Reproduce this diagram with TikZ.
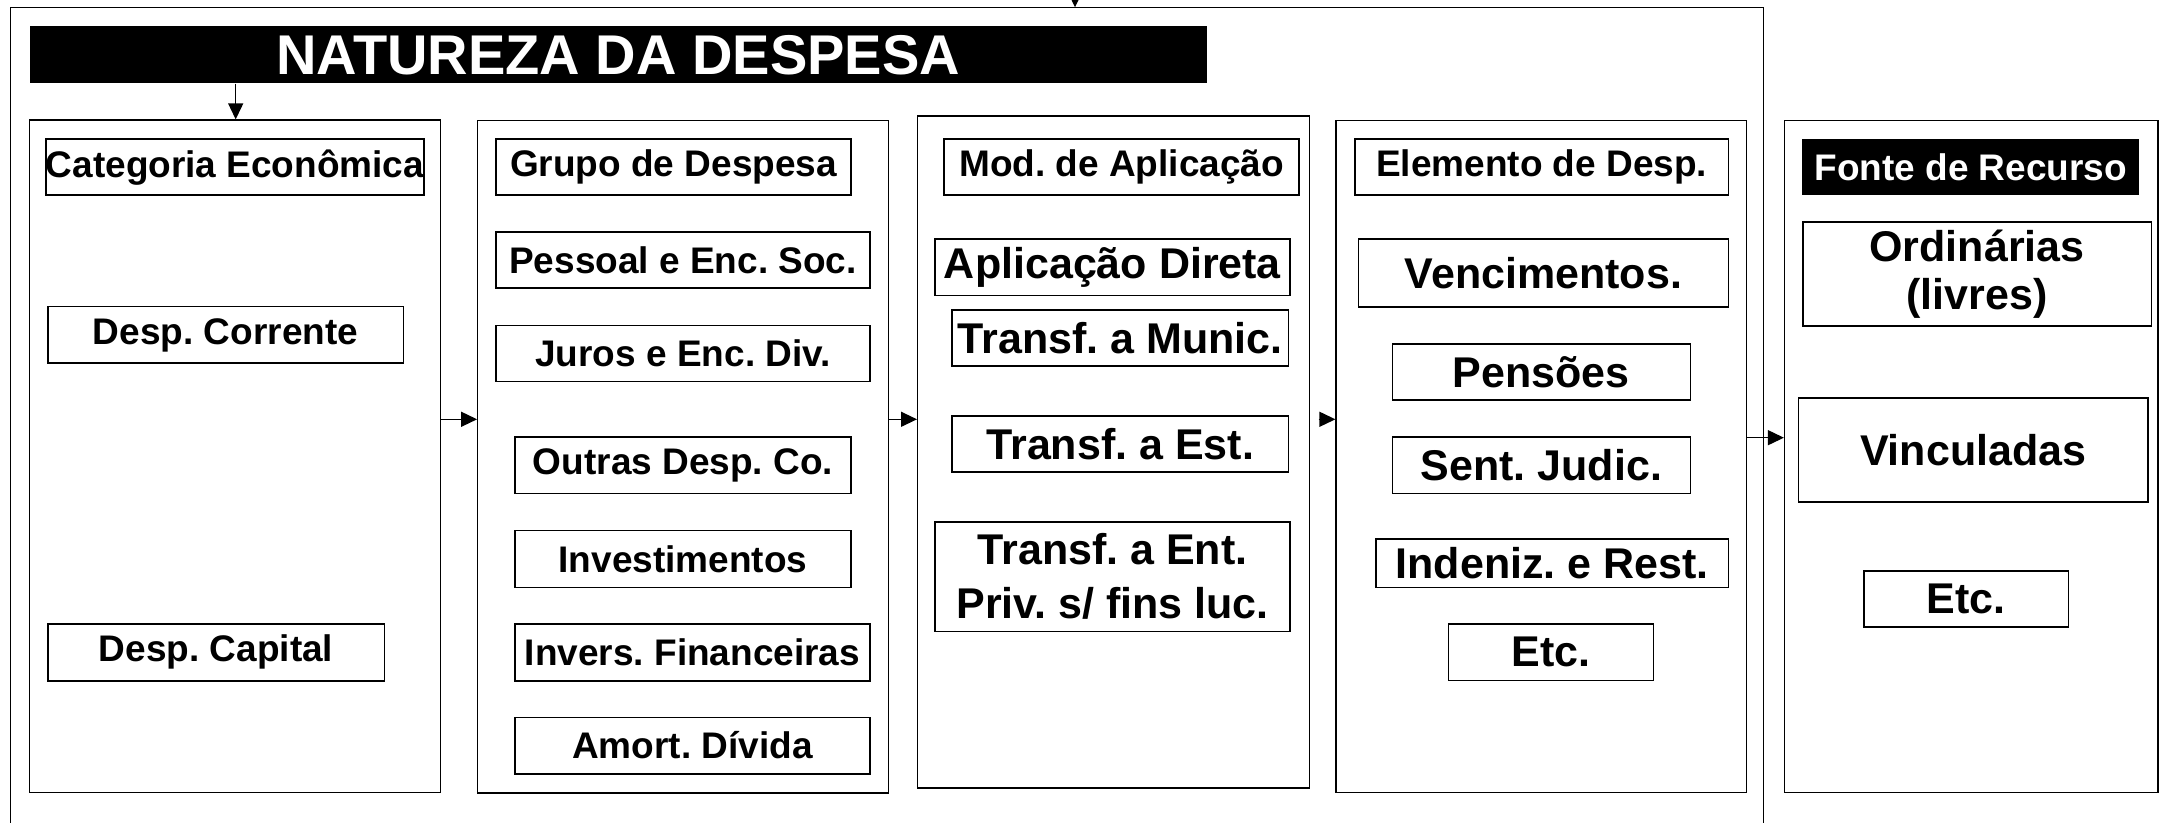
\documentclass[tikz,border=0pt]{standalone}
\usepackage{fontspec}
\setmainfont{Liberation Sans}
\frenchspacing
\usetikzlibrary{arrows.meta}
\newcommand\bx[7]{%
  \pgfmathsetmacro\bxcx{(#2+#4)/2}%
  \pgfmathsetmacro\bxcy{(#3+#5)/2}%
  \pgfmathsetmacro\bxw{(#4-#2)*0.5}%
  \pgfmathsetmacro\bxh{(#5-#3)*0.5}%
  \node[#6, minimum width=\bxw pt, minimum height=\bxh pt] (#1) at (\bxcx,\bxcy) {#7};}
\begin{document}
\begin{tikzpicture}[x=0.5pt,y=-0.5pt,
  colbox/.style={draw=black, line width=0.6pt, inner sep=0pt},
  ibox/.style={draw=black, line width=0.8pt, inner sep=0pt, align=center},
  smalltxt/.style={ibox, font=\fontsize{18.5}{22}\selectfont\bfseries},
  bigtxt/.style={ibox, font=\fontsize{21.5}{26}\selectfont\bfseries},
  darkbox/.style={fill=black, text=white, inner sep=0pt},
  arr/.style={line width=0.65pt, -{Triangle[length=8pt,width=7.5pt]}}]
\useasboundingbox (0,0) rectangle (2164,823);
\fill[white] (0,0) rectangle (2164,823);
% outer frame
\draw[line width=0.55pt] (10.5,823) -- (10.5,7.3) -- (1763.5,7.3) -- (1763.5,823);
\coordinate (topin) at (1075,-12);
\coordinate (topend) at (1075,7.3);
\draw[arr] (topin) -- (topend);
% title
\bx{title}{29.5}{26.5}{1207}{83.3}{darkbox, font=\fontsize{28}{32}\selectfont\bfseries}{NATUREZA DA DESPESA}
% columns
\bx{c1}{29.5}{120}{440.5}{792.3}{colbox}{}
\bx{c2}{477.7}{120.7}{888.8}{793}{colbox}{}
\bx{c3}{917.6}{116}{1309.5}{788}{colbox}{}
\bx{c4}{1336}{120.7}{1746.6}{792.3}{colbox}{}
\bx{c5}{1784.5}{120.7}{2158}{792.3}{colbox}{}
% column 1
\bx{cat}{47.7}{139}{422.3}{195.3}{smalltxt}{Categoria Econômica}
\bx{dcor}{47.7}{306.7}{403.4}{363.3}{smalltxt}{Desp. Corrente}
\bx{dcap}{47.7}{623.7}{384.4}{680.7}{smalltxt}{Desp. Capital}
% column 2
\bx{gru}{496}{139}{851}{195.3}{smalltxt}{Grupo de Despesa}
\bx{pes}{496}{232.3}{870}{288.3}{smalltxt}{Pessoal e Enc. Soc.}
\bx{jur}{496}{325.7}{870}{381.7}{smalltxt}{Juros e Enc. Div.}
\bx{outr}{515}{437.3}{851}{493.7}{smalltxt}{Outras Desp. Co.}
\bx{inv}{515}{530.7}{851}{587.3}{smalltxt}{Investimentos}
\bx{ifin}{515}{623.7}{870}{680.7}{smalltxt}{Invers. Financeiras}
\bx{amo}{515}{717.3}{870}{773.7}{smalltxt}{Amort. Dívida}
% column 3
\bx{mod}{944.2}{139}{1299}{195.3}{smalltxt}{Mod. de Aplicação}
\bx{apd}{935}{239.3}{1289.9}{295.7}{bigtxt}{Aplicação Direta}
\bx{tmu}{952}{310}{1288.5}{366}{bigtxt}{Transf. a Munic.}
\bx{tes}{952}{416.3}{1288.5}{472.3}{bigtxt}{Transf. a Est.}
\bx{ten}{935}{522}{1290}{631.3}{bigtxt, font=\fontsize{21.5}{27}\selectfont\bfseries}{Transf. a Ent.\\Priv. s/ fins luc.}
% column 4
\bx{ele}{1355}{139}{1728.3}{195.3}{smalltxt}{Elemento de Desp.}
\bx{ven}{1358.6}{239.3}{1728.3}{307.3}{bigtxt}{Vencimentos.}
\bx{pen}{1392.3}{344}{1690.4}{400}{bigtxt}{Pensões}
\bx{sen}{1392.3}{437.3}{1690.4}{493.7}{bigtxt}{Sent. Judic.}
\bx{ind}{1376}{539}{1728.3}{587.3}{bigtxt}{Indeniz. e Rest.}
\bx{etcA}{1448.4}{623.7}{1653.3}{680.3}{bigtxt}{Etc.}
% column 5
\bx{fon}{1802}{139}{2139.4}{195.3}{darkbox, font=\fontsize{18.5}{22}\selectfont\bfseries}{Fonte de Recurso}
\bx{ord}{1802.7}{222.3}{2151.3}{326}{bigtxt, font=\fontsize{21.5}{24}\selectfont\bfseries}{Ordinárias\\(livres)}
\bx{vin}{1798.5}{398.3}{2147.8}{502}{bigtxt}{Vinculadas}
\bx{etcB}{1863.7}{570.7}{2068.6}{627}{bigtxt}{Etc.}
% arrows
\coordinate (tx) at (235.7,0);
\draw[arr] (tx |- title.south) -- (tx |- c1.north);
\coordinate (ya) at (0,419.3);
\coordinate (yb) at (0,437.7);
\draw[arr] (c1.east |- ya) -- (c2.west |- ya);
\draw[arr] (c2.east |- ya) -- (c3.west |- ya);
\draw[arr, shorten <=4.25pt] (c3.east |- ya) -- (c4.west |- ya);
\draw[arr] (c4.east |- yb) -- (c5.west |- yb);
\end{tikzpicture}
\end{document}
